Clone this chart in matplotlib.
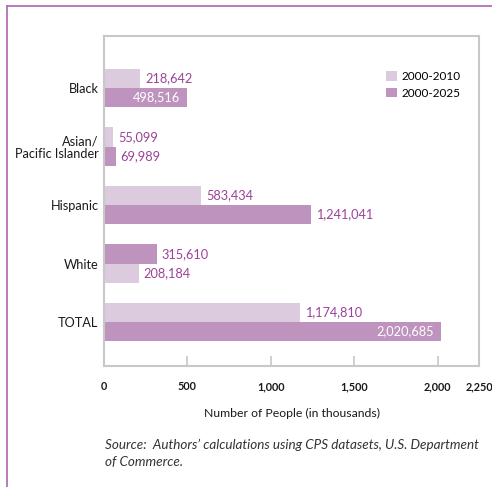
import matplotlib
matplotlib.use('Agg')
import matplotlib.pyplot as plt
from matplotlib.lines import Line2D
from matplotlib.patches import Patch

# data (labels show raw numbers, axis is in thousands)
groups = ['Black', 'Asian/\nPacific Islander', 'Hispanic', 'White', 'TOTAL']
growth_2010 = [218642, 55099, 583434, 208184, 1174810]
growth_2025 = [498516, 69989, 1241041, 315610, 2020685]
series_names = ['2000-2010', '2000-2025']
xticks = [0, 500, 1000, 1500, 2000, 2250]
xtick_labels = ['0', '500', '1,000', '1,500', '2,000', '2,250']

LIGHT = '#dccade'
DARK = '#be93be'
LBL = '#9b4399'
GRID = '#c8c8c8'

plt.rcParams['font.family'] = ['Lato', 'DejaVu Sans']

fig = plt.figure(figsize=(4.92, 4.87), dpi=100)
ax = fig.add_axes([104/492, 1-366/487, 375.3/492, 330/487])

h = 0.325
ypos = [4, 3, 2, 1, 0]
# in the White row the 2025 bar sits on top
dark_on_top = [False, False, False, True, False]
# labels that are written inside the bar
inside = {(0, 1), (4, 1)}

for i, g in enumerate(groups):
    y = ypos[i]
    if dark_on_top[i]:
        y10, y25 = y - h/2, y + h/2
    else:
        y10, y25 = y + h/2, y - h/2
    for s, (val, yy, col) in enumerate([(growth_2010[i], y10, LIGHT), (growth_2025[i], y25, DARK)]):
        ax.barh(yy, val/1000, height=h, color=col, edgecolor='none', zorder=2)
        txt = f'{val:,}'
        if (i, s) in inside:
            ax.annotate(txt, (val/1000, yy), xytext=(-5, 0), textcoords='offset points',
                        ha='right', va='center', color='white', fontsize=9.2)
        else:
            ax.annotate(txt, (val/1000, yy), xytext=(3.6, 0), textcoords='offset points',
                        ha='left', va='center', color=LBL, fontsize=9.2)

ax.set_xlim(0, 2250)
ax.set_ylim(-0.752, 4.889)
ax.set_yticks(ypos)
ax.set_yticklabels(groups, fontsize=9.2, color='#1a1a1a', linespacing=1.0)
ax.tick_params(axis='y', length=0, pad=4)
ax.set_xticks(xticks)
ax.set_xticklabels(xtick_labels, fontsize=7.8, color='#1a1a1a', fontweight='bold')
ax.tick_params(axis='x', direction='in', length=7, width=1.2, color=GRID, pad=11)
for sp in ax.spines.values():
    sp.set_color(GRID)
    sp.set_linewidth(1.5)

ax.set_xlabel('Number of People (in thousands)', fontsize=8.8, color='#1a1a1a', labelpad=11)

handles = [Patch(facecolor=LIGHT, edgecolor='none'), Patch(facecolor=DARK, edgecolor='none')]
ax.legend(handles, series_names, loc='upper left', bbox_to_anchor=(0.74, 0.909),
          frameon=False, fontsize=8.5, handlelength=0.9, handleheight=0.9,
          handletextpad=0.4, labelspacing=0.5, borderaxespad=0)

fig.text(105/492, 1-445/487, 'Source:  Authors\u2019 calculations using CPS datasets, U.S. Department',
         fontsize=9.7, style='italic', color='#333333', va='center')
fig.text(105/492, 1-462/487, 'of Commerce.', fontsize=9.7, style='italic', color='#333333', va='center')

# frame lines of the page
fig.add_artist(Line2D([7/492, 1], [1-6/487, 1-6/487], color='#b56fb5', lw=1.3))
fig.add_artist(Line2D([7/492, 7/492], [0, 1-6/487], color='#b56fb5', lw=1.3))

fig.savefig('out.png', dpi=100)
